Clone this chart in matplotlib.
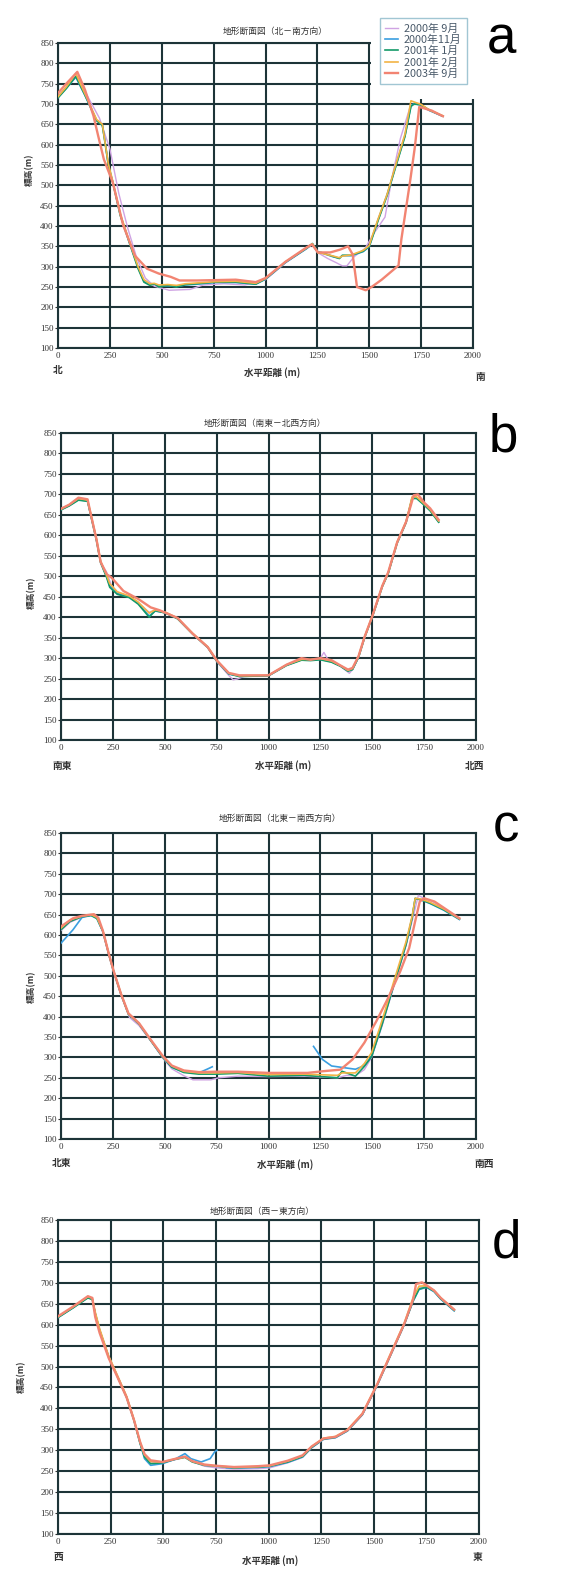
import numpy as np
import matplotlib
matplotlib.use("Agg")
import matplotlib.pyplot as plt
from matplotlib.patches import Rectangle

plt.rcParams['font.family'] = ['Noto Sans CJK JP', 'DejaVu Sans']

W, H = 584, 1571
nan = np.nan

series_labels = ["2000年 9月", "2000年11月", "2001年 1月", "2001年 2月", "2003年 9月"]
series_colors = ["#cfa3e3", "#3a9ee0", "#139a68", "#f2b445", "#f28472"]

x_ticks = [0, 250, 500, 750, 1000, 1250, 1500, 1750, 2000]
y_ticks = list(range(100, 851, 50))

titles = ["地形断面図（北－南方向）", "地形断面図（南東－北西方向）",
          "地形断面図（北東－南西方向）", "地形断面図（西－東方向）"]
left_labels = ["北", "南東", "北東", "西"]
right_labels = ["南", "北西", "南西", "東"]
panel_letters = ["a", "b", "c", "d"]

# ---- panel a (north - south)
a_x = [0, 40, 86, 129, 186, 214, 229, 243, 264, 300, 343, 386, 414, 443, 464, 486, 529, 571, 614, 671,
       757, 857, 953, 1000, 1096, 1197, 1226, 1253, 1269, 1327, 1356, 1370, 1414, 1471, 1500, 1514,
       1543, 1586, 1629, 1672, 1701, 1716, 1750, 1790, 1855]
a_jan01 = [715, 738, 768, 723, 659, 647, 597, 548, 507, 426, 360, 295, 262, 254, 258, 250, 254, 250, 256, 258,
           262, 262, 257, 270, 311, 345, 357, 335, 335, 325, 320, 328, 328, 338, 350, 370,
           414, 475, 548, 620, 694, 700, 698, 685, 670]
a_nov00 = [716, 739, 766, 722, 660, 648, 600, 550, 508, 428, 362, 298, 264, 256, 257, 252, 253, 251, 255, 257,
           261, 261, 257, 269, 310, 344, 356, 336, 334, 324, 321, 327, 327, 337, 349, 372,
           416, 477, 550, 622, 696, 701, 697, 684, 670]
a_feb01 = [718, 742, 775, 726, 662, 650, 598, 552, 510, 430, 364, 300, 268, 258, 259, 255, 256, 254, 258, 260,
           263, 264, 259, 271, 312, 346, 356, 334, 333, 326, 322, 326, 329, 340, 352, 375,
           418, 478, 553, 626, 708, 705, 699, 685, 671]
a_sep00_x = [0, 90, 150, 200, 250, 293, 336, 379, 421, 464, 536, 636, 700, 800, 900, 1000, 1100, 1200, 1226,
             1250, 1300, 1340, 1370, 1392, 1428, 1480, 1520, 1576, 1610, 1650, 1700, 1740, 1780, 1850]
a_sep00 = [720, 770, 712, 665, 590, 480, 395, 322, 272, 252, 242, 244, 255, 258, 255, 268, 311, 345, 354,
           335, 320, 310, 302, 302, 325, 345, 380, 422, 520, 615, 698, 700, 686, 670]
a_sep03_x = [0, 40, 93, 130, 171, 193, 221, 264, 314, 371, 429, 486, 543, 586, 671, 857, 953, 1000, 1096, 1197,
             1224, 1253, 1312, 1360, 1398, 1420, 1441, 1483, 1511, 1560, 1641, 1655, 1698, 1720, 1741, 1760,
             1800, 1855]
a_sep03 = [727, 750, 779, 735, 671, 623, 564, 507, 402, 327, 295, 283, 275, 266, 266, 268, 262, 272, 312, 347,
           355, 335, 335, 342, 350, 330, 250, 242, 250, 268, 303, 368, 514, 595, 693, 690,
           684, 670]

# ---- panel b (south-east - north-west)
b_x = [0, 40, 84, 128, 142, 171, 191, 220, 235, 271, 329, 372, 425, 454, 504, 562, 634, 707, 750, 808, 860,
       1000, 1087, 1159, 1202, 1250, 1304, 1347, 1383, 1405, 1434, 1463, 1500, 1548, 1577, 1620, 1663,
       1692, 1714, 1750, 1779, 1820]
b_jan01 = [662, 672, 686, 683, 652, 587, 533, 497, 473, 456, 448, 432, 400, 416, 410, 396, 359, 326, 293, 262, 255,
           257, 282, 295, 294, 296, 290, 280, 268, 272, 302, 350, 400, 474, 507, 581, 631,
           690, 690, 674, 660, 632]
b_nov00 = [663, 673, 687, 684, 653, 589, 535, 499, 476, 458, 449, 434, 403, 415, 411, 397, 360, 327, 294, 261, 256,
           257, 283, 296, 295, 297, 291, 281, 269, 273, 303, 351, 401, 475, 508, 582, 632,
           691, 691, 675, 661, 633]
b_feb01 = [664, 675, 690, 686, 656, 592, 537, 502, 482, 462, 452, 437, 410, 418, 412, 398, 361, 328, 295, 263, 257,
           258, 284, 297, 297, 299, 293, 282, 270, 275, 305, 352, 403, 476, 509, 584, 634,
           694, 694, 677, 663, 635]
b_sep00_x = [0, 40, 84, 128, 142, 171, 191, 220, 243, 271, 329, 372, 425, 454, 504, 562, 634, 707, 750, 808,
             829, 850, 880, 1000, 1087, 1159, 1202, 1250, 1267, 1285, 1304, 1347, 1390, 1405, 1434, 1463,
             1500, 1548, 1577, 1620, 1663, 1692, 1714, 1750, 1779, 1820]
b_sep00 = [663, 673, 688, 684, 653, 588, 534, 510, 478, 462, 450, 435, 412, 418, 410, 397, 360, 326, 292, 258,
           247, 249, 255, 258, 283, 296, 295, 300, 314, 298, 293, 280, 263, 272, 302, 350,
           401, 475, 508, 582, 632, 692, 693, 676, 662, 634]
b_sep03_x = [0, 40, 84, 128, 142, 171, 191, 220, 243, 301, 374, 432, 475, 562, 634, 707, 750, 808, 860, 1000,
             1087, 1159, 1202, 1250, 1304, 1347, 1383, 1405, 1434, 1463, 1500, 1548, 1577, 1620, 1663, 1700,
             1720, 1750, 1779, 1820]
b_sep03 = [665, 675, 692, 688, 655, 590, 535, 505, 497, 464, 444, 424, 417, 398, 360, 327, 295, 264, 258, 258,
           284, 300, 296, 300, 295, 282, 272, 276, 305, 352, 402, 476, 510, 583, 633, 698,
           700, 680, 666, 638]

# ---- panel c (north-east - south-west)
c_x = [0, 43, 101, 145, 173, 202, 231, 253, 289, 325, 376, 433, 491, 534, 592, 664, 751, 852, 1000, 1173,
       1332, 1354, 1376, 1419, 1462, 1497, 1548, 1605, 1663, 1692, 1707, 1736, 1779, 1844, 1920]
c_jan01 = [613, 633, 645, 648, 641, 609, 552, 512, 455, 406, 382, 341, 300, 276, 263, 259, 259, 261, 254, 256,
           250, 266, 262, 254, 278, 302, 382, 479, 577, 642, 690, 686, 678, 662, 639]
c_feb01 = [617, 637, 646, 650, 643, 610, 553, 513, 456, 407, 383, 342, 302, 279, 266, 262, 262, 263, 258, 259,
           256, 262, 262, 262, 285, 312, 392, 488, 584, 646, 690, 688, 680, 664, 640]
c_nov00_x = [0, 58, 101, 145, 173, 202, 231, 253, 289, 325, 376, 433, 491, 534, 592, 664, 708, 729, nan,
             1217, 1260, 1304, 1361, 1419, 1462, 1497, 1548, 1605, 1663, 1692, 1707, 1736, 1779, 1844, 1920]
c_nov00 = [580, 613, 643, 648, 640, 608, 551, 511, 455, 406, 382, 341, 300, 276, 264, 262, 272, 277, nan,
           327, 295, 279, 275, 271, 280, 303, 383, 480, 578, 643, 689, 686, 677, 661, 638]
c_sep00_x = [0, 43, 101, 160, 180, 202, 231, 253, 289, 330, 376, 433, 491, 534, 592, 636, 722, 760, 852, 1000,
             1173, 1332, 1376, 1419, 1462, 1497, 1548, 1605, 1663, 1700, 1722, 1750, 1790, 1844, 1920]
c_sep00 = [611, 631, 644, 649, 636, 606, 550, 512, 453, 398, 378, 340, 298, 272, 255, 245, 245, 250, 254, 253,
           254, 250, 256, 255, 270, 300, 378, 476, 574, 650, 697, 690, 682, 664, 640]
c_sep03_x = [0, 58, 101, 159, 180, 202, 231, 253, 289, 325, 376, 433, 491, 534, 592, 664, 751, 852, 1000, 1188,
             1260, 1347, 1405, 1462, 1520, 1577, 1635, 1678, 1707, 1729, 1750, 1800, 1844, 1920]
c_sep03 = [621, 641, 647, 651, 642, 610, 553, 513, 456, 408, 384, 343, 303, 280, 268, 264, 265, 265, 262, 262,
           266, 270, 295, 336, 389, 446, 511, 568, 634, 682, 690, 682, 667, 641]

# ---- panel d (west - east)
d_x = [0, 71, 142, 163, 177, 198, 241, 284, 326, 361, 390, 411, 440, 496, 553, 603, 638, 695, 751, 836, 950,
       1006, 1091, 1162, 1205, 1261, 1318, 1375, 1446, 1517, 1588, 1645, 1687, 1715, 1751, 1786, 1818, 1882]
d_jan01 = [617, 640, 664, 660, 626, 586, 522, 474, 426, 371, 316, 284, 268, 270, 278, 283, 272, 264, 262, 258, 260,
           262, 272, 285, 307, 327, 331, 347, 386, 457, 537, 601, 657, 685, 690, 680, 662, 634]
d_sep00 = [618, 641, 665, 661, 628, 588, 524, 476, 428, 373, 318, 286, 272, 271, 277, 284, 273, 262, 258, 255, 256,
           258, 270, 283, 306, 326, 330, 346, 384, 455, 536, 600, 658, 688, 692, 681, 663, 635]
d_feb01 = [619, 642, 667, 663, 630, 590, 525, 477, 429, 374, 320, 289, 273, 272, 279, 284, 274, 265, 263, 259, 261,
           263, 274, 287, 309, 329, 333, 349, 388, 459, 540, 604, 665, 692, 693, 682, 664, 636]
d_nov00_x = [0, 71, 142, 163, 177, 198, 241, 284, 326, 361, 390, 411, 440, 496, 553, 603, 631, 680, 723, 744,
             755, nan, 800, 836, 950, 1006, 1091, 1162, 1205, 1261, 1318, 1375, 1446, 1517, 1588, 1645, 1687,
             1715, 1751, 1786, 1818, 1882]
d_nov00 = [617, 640, 665, 661, 627, 587, 523, 475, 427, 372, 317, 280, 264, 268, 278, 292, 280, 272, 280, 296,
           300, nan, 258, 258, 259, 261, 271, 284, 306, 326, 330, 346, 385, 456, 536, 600, 656,
           684, 689, 679, 661, 633]
d_sep03_x = [0, 71, 142, 163, 177, 198, 241, 284, 326, 361, 390, 411, 440, 496, 553, 603, 638, 695, 751, 836, 950,
             1006, 1091, 1162, 1205, 1261, 1318, 1375, 1446, 1517, 1588, 1645, 1687, 1701, 1729, 1751, 1786,
             1818, 1882]
d_sep03 = [620, 643, 668, 664, 618, 580, 520, 473, 426, 372, 320, 291, 276, 272, 279, 285, 274, 266, 263, 260, 262,
           264, 275, 288, 309, 328, 332, 348, 387, 458, 538, 602, 660, 697, 701, 694, 682,
           664, 636]

panels = [
    [(a_sep00_x, a_sep00), (a_x, a_nov00), (a_x, a_jan01), (a_x, a_feb01), (a_sep03_x, a_sep03)],
    [(b_sep00_x, b_sep00), (b_x, b_nov00), (b_x, b_jan01), (b_x, b_feb01), (b_sep03_x, b_sep03)],
    [(c_sep00_x, c_sep00), (c_nov00_x, c_nov00), (c_x, c_jan01), (c_x, c_feb01), (c_sep03_x, c_sep03)],
    [(d_x, d_sep00), (d_nov00_x, d_nov00), (d_x, d_jan01), (d_x, d_feb01), (d_sep03_x, d_sep03)],
]

# axes boxes in pixels: left, top, right, bottom
boxes = [(58, 43, 473, 348), (61, 433, 476, 740), (61, 833, 476, 1139), (58, 1220, 479, 1534)]
title_pos = [(275, 31), (265, 423), (280, 818), (262, 1211)]
ylabel_pos = [(30, 170), (32, 593), (32, 987), (22, 1377)]
xlabel_pos = [(272, 373), (283, 766), (285, 1165), (270, 1561)]
left_pos = [(58, 370), (62, 766), (62, 1163), (58, 1557)]
right_pos = [(480, 377), (475, 766), (484, 1164), (478, 1557)]
letter_pos = [(487, 53), (489, 452), (493, 842), (492, 1257)]

GRID = "#1d3438"


def px(x, y):
    return x / W, 1 - y / H


fig = plt.figure(figsize=(W / 100, H / 100), dpi=100)
fig.patch.set_facecolor("white")

handles = []
for i, series in enumerate(panels):
    l, t, r, b = boxes[i]
    ax = fig.add_axes([l / W, 1 - b / H, (r - l) / W, (b - t) / H])
    ax.set_facecolor("white")
    ax.set_xlim(0, 2000)
    ax.set_ylim(100, 850)
    ax.set_xticks(x_ticks)
    ax.set_yticks(y_ticks)

    ax.grid(True, color=GRID, lw=1.5, zorder=1)
    ax.set_axisbelow(True)
    for sp in ax.spines.values():
        sp.set_color(GRID)
        sp.set_linewidth(1.5)

    for k, (xs, ys) in enumerate(series):
        lw = 1.7 if k == 4 else (1.0 if k == 0 else 1.2)
        ln, = ax.plot(xs, ys, color=series_colors[k], lw=lw, zorder=3 + k * 0.1,
                      label=series_labels[k])
        if i == 0:
            handles.append(ln)

    if i == 0:
        # legend area has no grid
        ax.add_patch(Rectangle((1509, 712), 540, 170, facecolor="white", edgecolor="none",
                               zorder=2.6, clip_on=False))

    ax.tick_params(axis="y", length=2, width=0.8, pad=1, labelsize=6.5, colors="#333333")
    ax.tick_params(axis="x", length=0, pad=3, labelsize=6.5, colors="#333333")
    plt.setp(ax.get_xticklabels() + ax.get_yticklabels(), fontfamily="Liberation Serif")

    fig.text(*px(*title_pos[i]), titles[i], ha="center", va="center", fontsize=6.3, color="#333333")
    fig.text(*px(*ylabel_pos[i]), "標高(m)", rotation=90, ha="center", va="center",
             fontsize=6.3, fontweight="bold", color="#333333")
    fig.text(*px(*xlabel_pos[i]), "水平距離 (m)", ha="center", va="center", fontsize=6.8,
             fontweight="bold", color="#333333")
    fig.text(*px(*left_pos[i]), left_labels[i], ha="center", va="center", fontsize=7,
             fontweight="bold", color="#333333")
    fig.text(*px(*right_pos[i]), right_labels[i], ha="center", va="center", fontsize=7,
             fontweight="bold", color="#333333")
    fig.text(*px(*letter_pos[i]), panel_letters[i], ha="left", va="baseline", fontsize=38,
             family="Liberation Sans", color="black")

leg = fig.legend(handles=handles, loc="upper left", bbox_to_anchor=px(380, 18), fontsize=7.8,
                 frameon=True, fancybox=False, handlelength=1.2, handletextpad=0.5,
                 labelspacing=0.1, borderpad=0.5, borderaxespad=0)
leg.get_frame().set_edgecolor("#8ab8c8")
leg.get_frame().set_linewidth(1.0)
for txt in leg.get_texts():
    txt.set_color("#4a5a6a")

fig.savefig("out.png", dpi=100)
